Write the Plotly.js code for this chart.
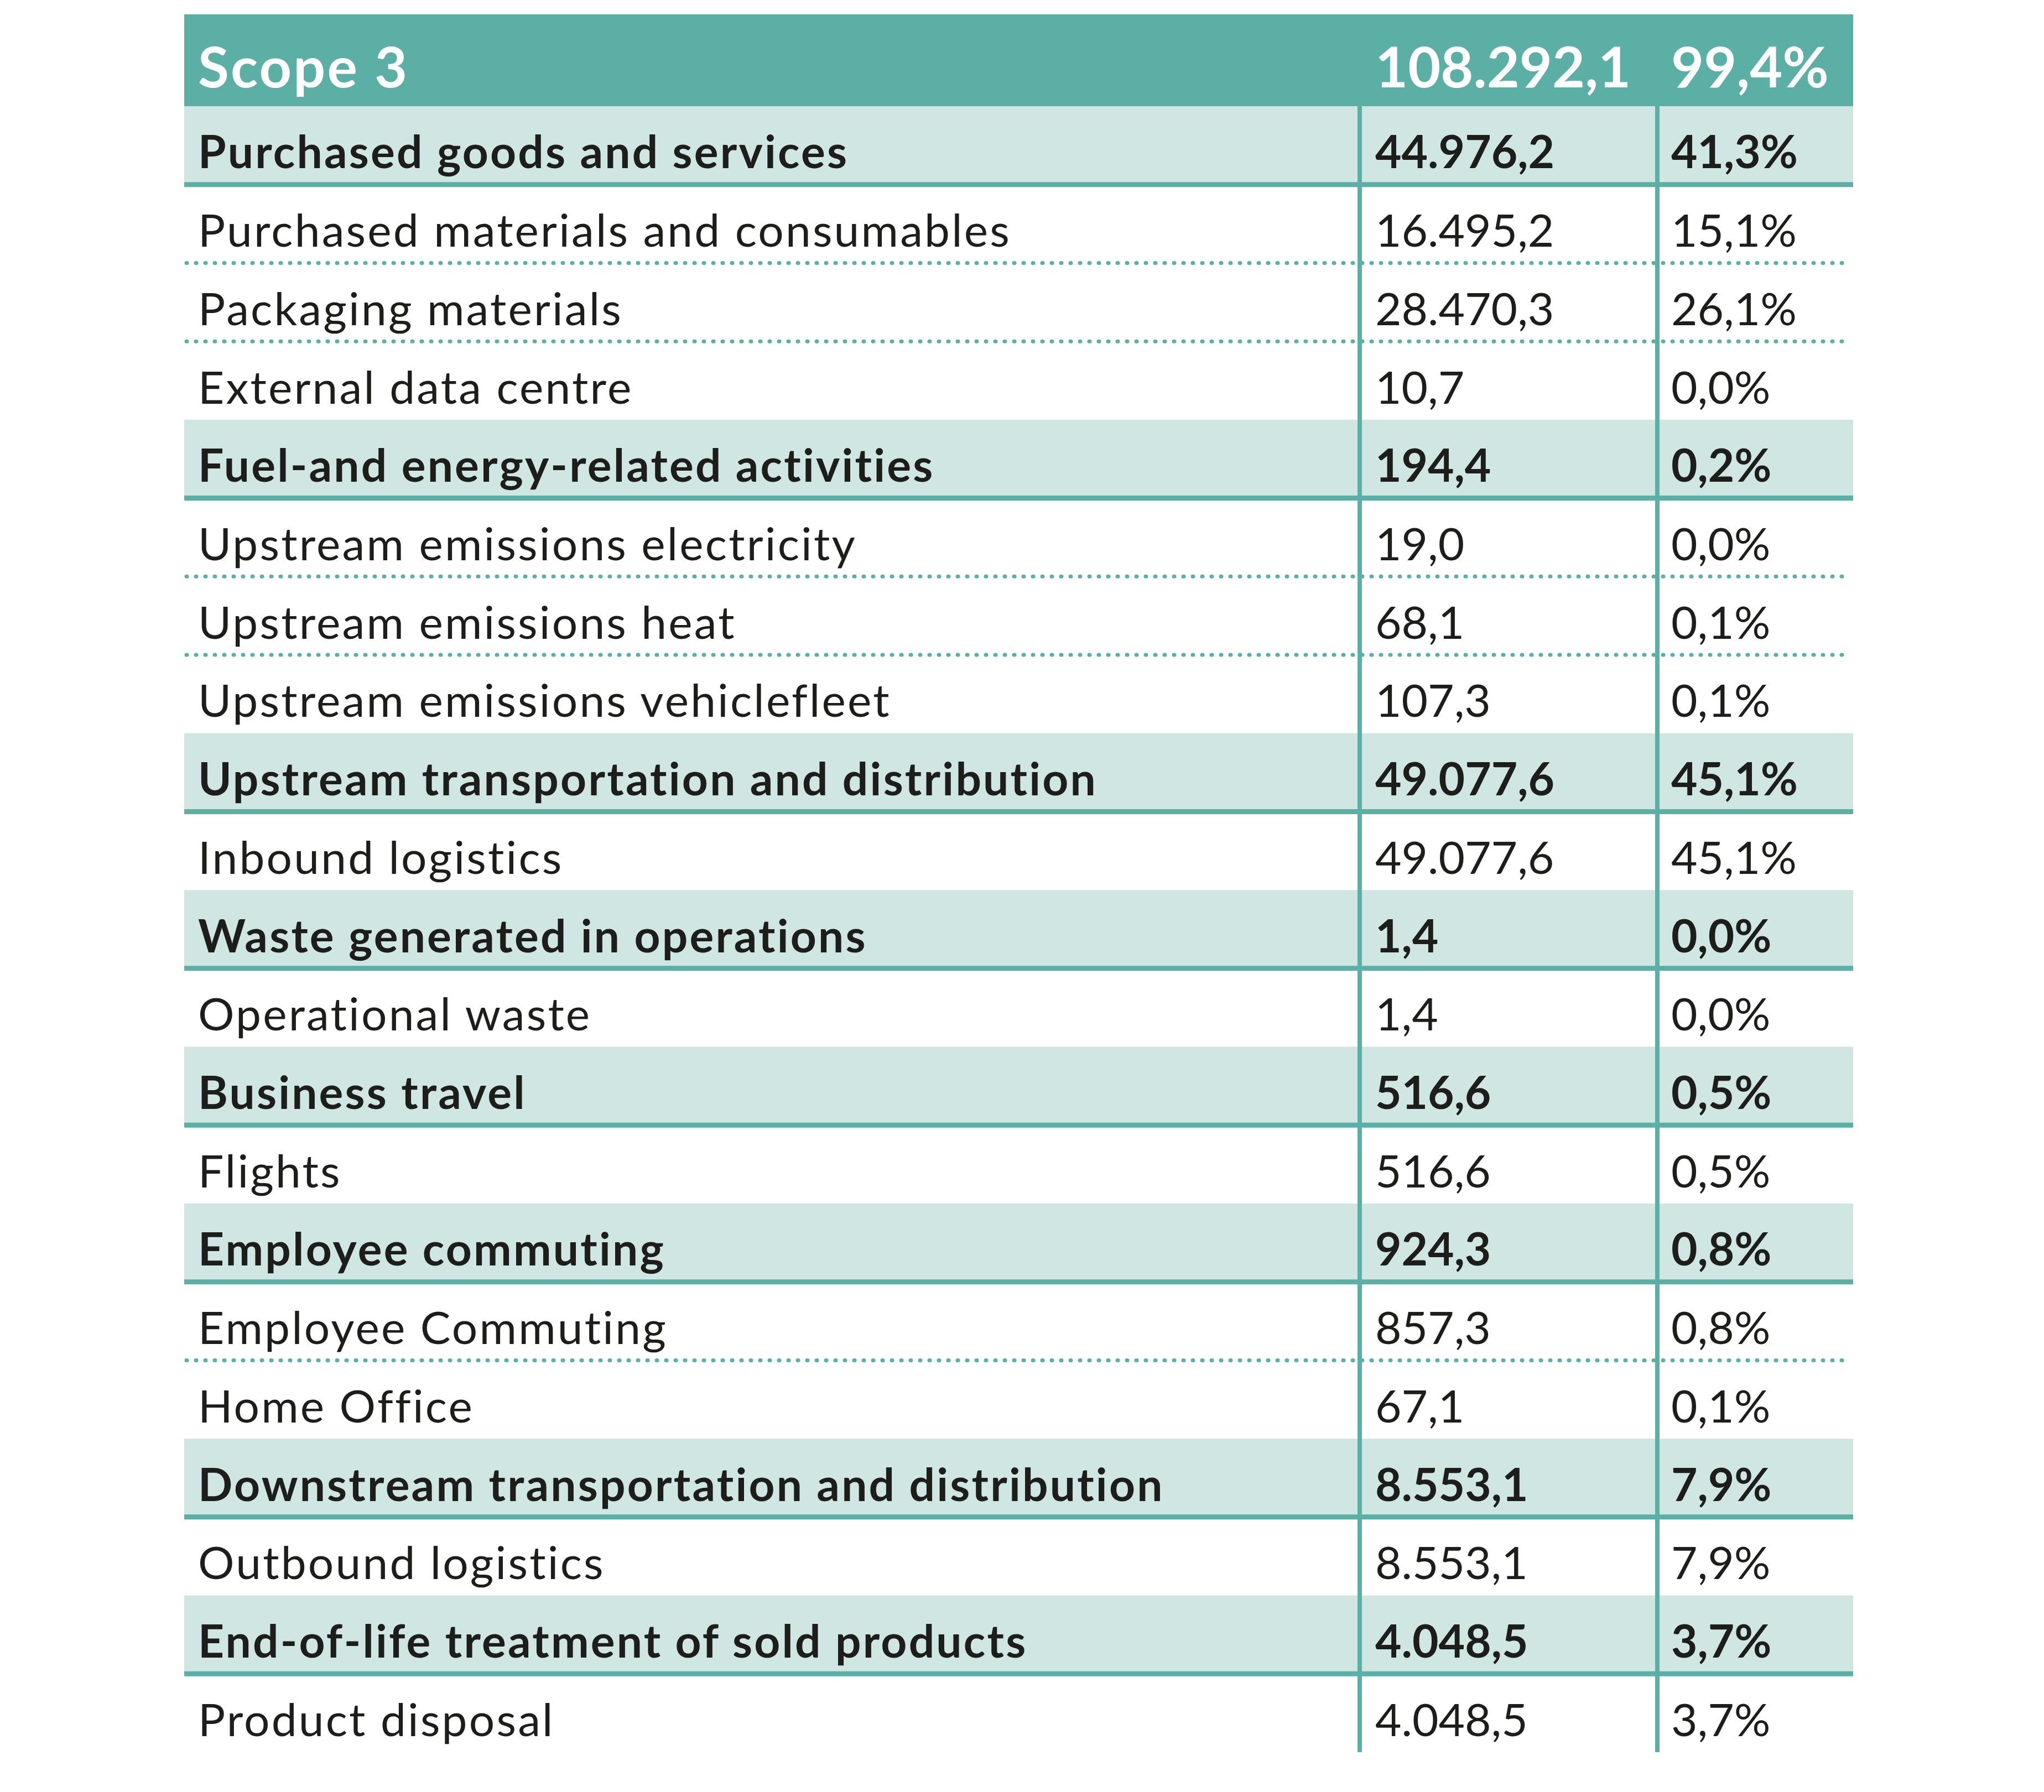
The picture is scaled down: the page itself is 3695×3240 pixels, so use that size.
<!DOCTYPE html>
<html>
<head>
<meta charset="utf-8">
<script src="https://cdn.plot.ly/plotly-3.0.1.min.js"></script>
<style>
  html, body { margin: 0; padding: 0; background: #ffffff; }
  #chart { width: 3695px; height: 3240px; }
  .shapelayer path[style*="stroke-dasharray: 1px"] { stroke-linecap: round; }
  .scatterlayer .trace:first-child text { letter-spacing: 3.2px; }
</style>
</head>
<body>
<div id="chart"></div>
<script>
// ---- data ----
const labels = [
  "Scope 3",
  "Purchased goods and services",
  "Purchased materials and consumables",
  "Packaging materials",
  "External data centre",
  "Fuel-and energy-related activities",
  "Upstream emissions electricity",
  "Upstream emissions heat",
  "Upstream emissions vehiclefleet",
  "Upstream transportation and distribution",
  "Inbound logistics",
  "Waste generated in operations",
  "Operational waste",
  "Business travel",
  "Flights",
  "Employee commuting",
  "Employee Commuting",
  "Home Office",
  "Downstream transportation and distribution",
  "Outbound logistics",
  "End-of-life treatment of sold products",
  "Product disposal"
];
const emissions = [108292.1, 44976.2, 16495.2, 28470.3, 10.7, 194.4, 19.0, 68.1, 107.3,
  49077.6, 49077.6, 1.4, 1.4, 516.6, 516.6, 924.3, 857.3, 67.1, 8553.1, 8553.1, 4048.5, 4048.5];
const shares = [99.4, 41.3, 15.1, 26.1, 0.0, 0.2, 0.0, 0.1, 0.1,
  45.1, 45.1, 0.0, 0.0, 0.5, 0.5, 0.8, 0.8, 0.1, 7.9, 7.9, 3.7, 3.7];
const levels = ["scope", "category", "item", "item", "item", "category", "item", "item", "item",
  "category", "item", "category", "item", "category", "item", "category", "item", "item",
  "category", "item", "category", "item"];

// ---- formatting (German style: 1.234,5) ----
function fmtNum(v) {
  const s = v.toFixed(1);
  let [intPart, dec] = s.split(".");
  intPart = intPart.replace(/\B(?=(\d{3})+(?!\d))/g, ".");
  return intPart + "," + dec;
}
function fmtPct(v) { return v.toFixed(1).replace(".", ",") + "%"; }

// ---- geometry / style ----
const W = 3695, H = 3240;
const LEFT = 333, RIGHT = 3350, TOP = 26, HEAD_BOTTOM = 192, BOTTOM = 3168;
const DIV1 = 2458, DIV2 = 2996;
const COL_X = [358, 2486, 3021];
const nRows = labels.length - 1;
const RH = (BOTTOM - HEAD_BOTTOM) / nRows;
const TEAL = "#5BAFA5", LIGHT = "#CFE6E3", TXT = "#1D1D1B";

function rowTop(i) { return i === 0 ? TOP : HEAD_BOTTOM + (i - 1) * RH; }
function rowBottom(i) { return i === 0 ? HEAD_BOTTOM : HEAD_BOTTOM + i * RH; }
function rowTextY(i) { return (rowTop(i) + rowBottom(i)) / 2 + (i === 0 ? 23 : 21); }

const shapes = [];
// header background
shapes.push({type: "rect", xref: "x", yref: "y", layer: "below",
  x0: LEFT, x1: RIGHT, y0: rowTop(0), y1: rowBottom(0), fillcolor: TEAL, line: {width: 0}});
// category backgrounds
levels.forEach((lv, i) => {
  if (lv === "category") {
    shapes.push({type: "rect", xref: "x", yref: "y", layer: "below",
      x0: LEFT, x1: RIGHT, y0: rowTop(i), y1: rowBottom(i), fillcolor: LIGHT, line: {width: 0}});
  }
});
// dotted separators between consecutive items
levels.forEach((lv, i) => {
  if (lv === "item" && i + 1 < levels.length && levels[i + 1] === "item") {
    shapes.push({type: "line", xref: "x", yref: "y", layer: "below",
      x0: LEFT + 4, x1: RIGHT - 4, y0: rowBottom(i), y1: rowBottom(i),
      line: {color: TEAL, width: 7, dash: "1px,16px"}});
  }
});
// vertical dividers
[DIV1, DIV2].forEach(x => {
  shapes.push({type: "line", xref: "x", yref: "y", layer: "below",
    x0: x, x1: x, y0: HEAD_BOTTOM, y1: BOTTOM, line: {color: TEAL, width: 8}});
});
// thick lines under category rows
levels.forEach((lv, i) => {
  if (lv === "category") {
    shapes.push({type: "line", xref: "x", yref: "y", layer: "below",
      x0: LEFT, x1: RIGHT, y0: rowBottom(i), y1: rowBottom(i), line: {color: TEAL, width: 9}});
  }
});

const ys = labels.map((_, i) => rowTextY(i));
const colors = levels.map(lv => lv === "scope" ? "#FFFFFF" : TXT);
const sizes = levels.map(lv => lv === "scope" ? 102 : 82);
const weights = levels.map(lv => lv === "item" ? 400 : 700);

function textTrace(x, texts) {
  return {
    type: "scatter", mode: "text", x: texts.map(() => x), y: ys, text: texts,
    textposition: "middle right", cliponaxis: false, hoverinfo: "skip", showlegend: false,
    textfont: {family: "Lato", size: sizes, color: colors, weight: weights}
  };
}

const data = [
  textTrace(COL_X[0], labels),
  textTrace(COL_X[1], emissions.map(fmtNum)),
  textTrace(COL_X[2], shares.map(fmtPct))
];

const layout = {
  width: W, height: H,
  margin: {l: 0, r: 0, t: 0, b: 0, pad: 0},
  paper_bgcolor: "#ffffff", plot_bgcolor: "#ffffff",
  xaxis: {range: [0, W], visible: false, fixedrange: true},
  yaxis: {range: [H, 0], visible: false, fixedrange: true},
  shapes: shapes,
  showlegend: false
};

Plotly.newPlot("chart", data, layout, {staticPlot: true, displayModeBar: false});
</script>
</body>
</html>
